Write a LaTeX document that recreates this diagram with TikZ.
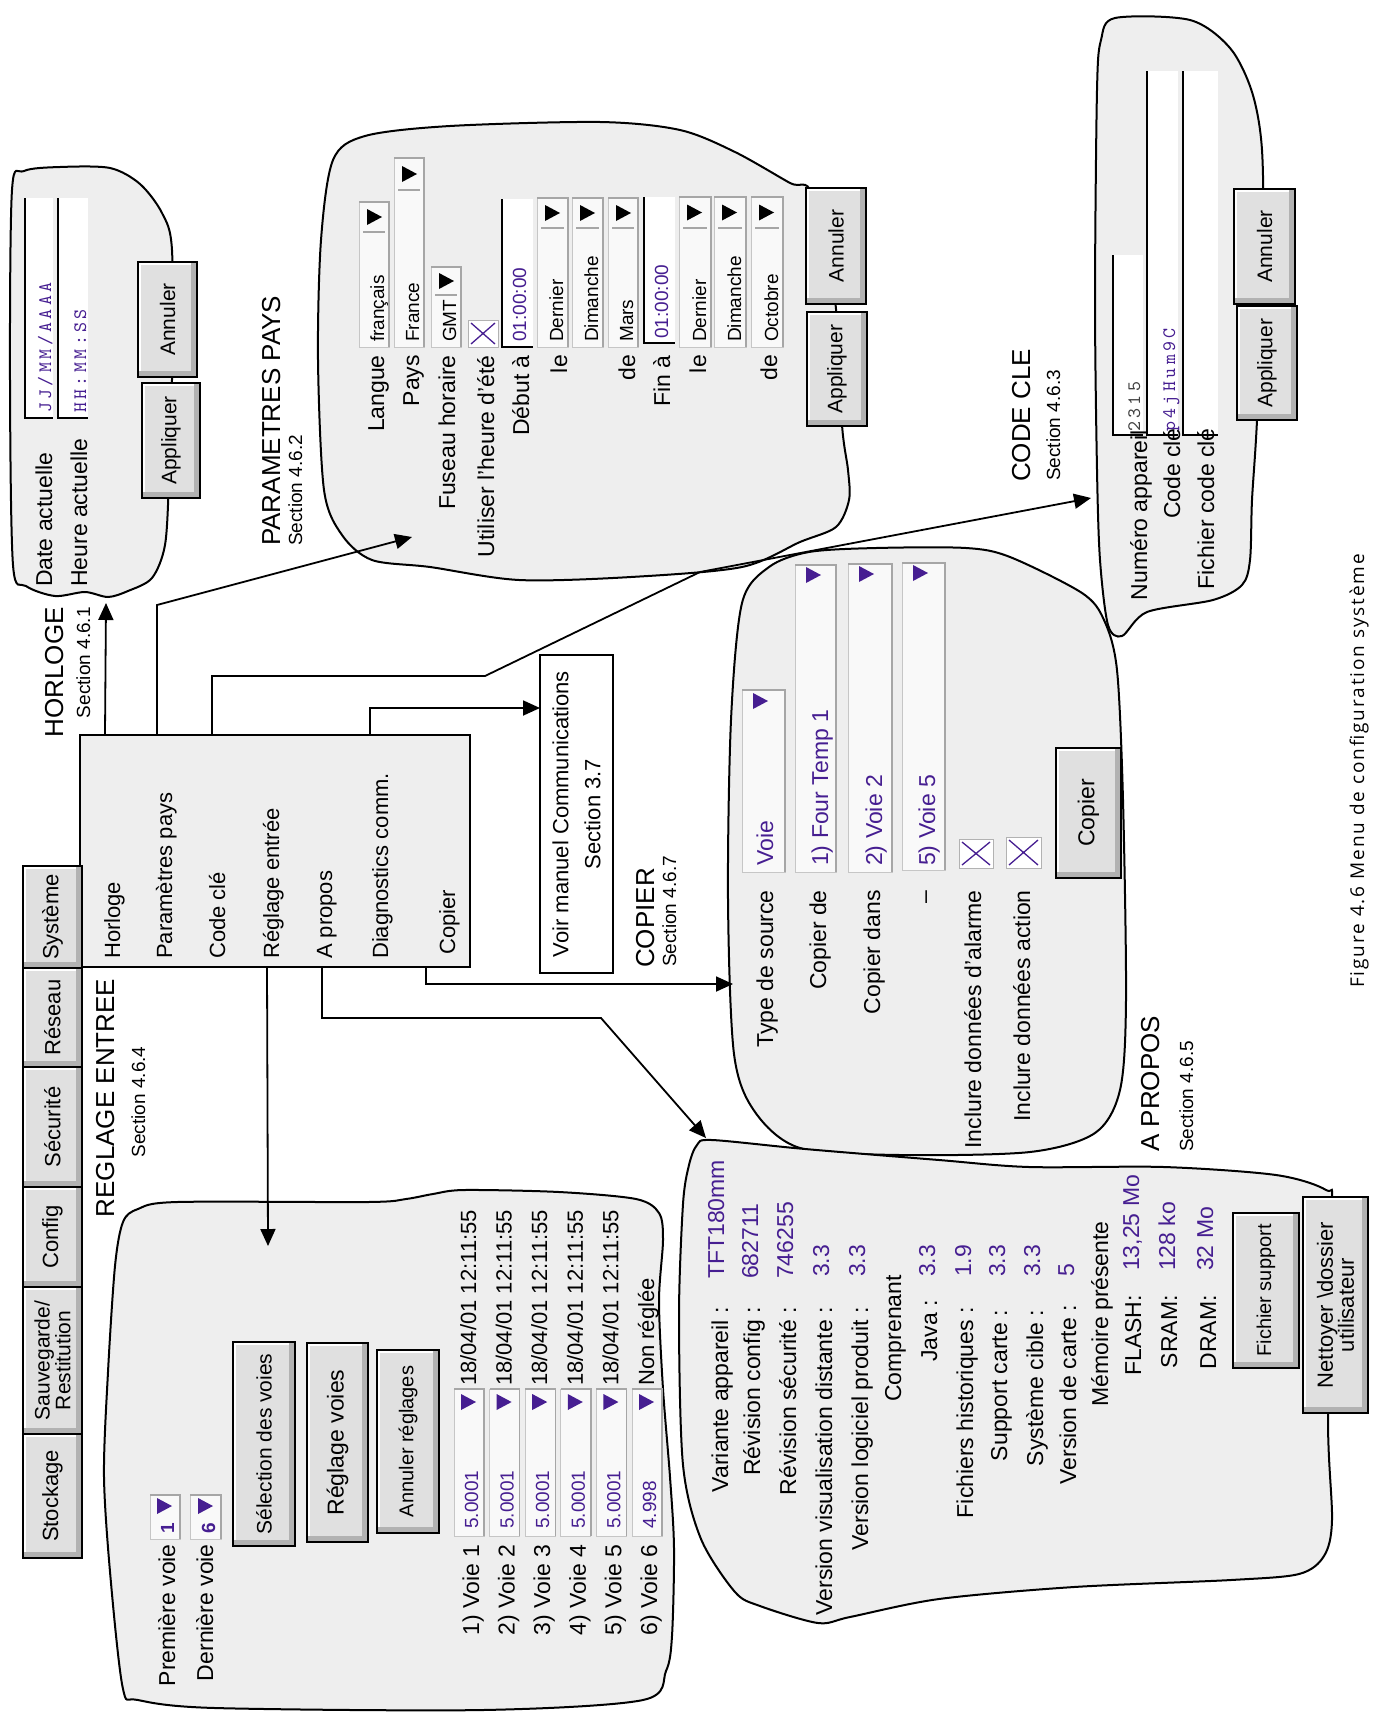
\documentclass[tikz,border=0pt]{standalone}
\usepackage{fontspec}
\setmainfont{Liberation Sans}
\newfontfamily\legendefont[LetterSpace=10]{Open Sans}
\newfontfamily\monofont[LetterSpace=18]{lmmono10-regular.otf}
\usetikzlibrary{arrows.meta}

\definecolor{fond}{RGB}{238,238,238}
\definecolor{saisie}{RGB}{70,30,145}

\newcommand{\horodate}{18/04/01 12:11:55}

% widgets, coordinates in pixels of the page (y downwards)
\newcommand{\bouton}[7][]{%
  \fill[gray!60] (#3,#4) rectangle (#5,#6);
  \fill[white] (#3,#4) rectangle ({#5-6},{#6-6});
  \fill[gray!24] ({#3+3},{#4+3}) rectangle ({#5-6},{#6-6});
  \draw[line width=1.3pt] (#3,#4) rectangle (#5,#6);
  \node[etiq, align=center, font=\fontsize{21}{24}\selectfont, #1] (#2)
    at ({(#3+#5)/2},{(#4+#6)/2}) {#7};
}
\newcommand{\champ}[4]{%
  \fill[white] (#1,#2) rectangle ({#3},{#4});
  \draw[line width=1.3pt] (#1,#2) -- (#1,#4) -- ({#3},{#4});
}
\newcommand{\liste}[4]{%
  \filldraw[fill=gray!5, draw=gray!45, line width=0.8pt] (#1,#2) rectangle ({#3},{#4});
  \draw[gray!70, line width=1.4pt] ({#3},{#4}) -- ({#3},{#2}) -- (#1,#2);
}
\newcommand{\fleche}[3]{%
  \fill[#3] ({#1},{#2-8}) -- ({#1+15},{#2}) -- ({#1},{#2+8}) -- cycle;
}
\newcommand{\coche}[4]{%
  \filldraw[fill=white, draw=gray!60, line width=1pt] (#1,#2) rectangle (#3,#4);
  \draw[saisie, line width=1.3pt] ({#1+3},{#2+3}) -- ({#3-3},{#4-3})
    ({#1+3},{#4-3}) -- ({#3-3},{#2+3});
}

\begin{document}
\begin{tikzpicture}[x=1pt, y=-1pt,
    bulle/.style={draw, fill=fond, line width=2pt},
    lien/.style={line width=1.8pt, -{Triangle[length=17pt,width=15pt]}},
    etiq/.style={rotate=90, inner sep=0pt, font=\fontsize{23}{27}\selectfont},
    menuitem/.style={etiq, anchor=base west, font=\fontsize{22}{26}\selectfont},
    valeur/.style={etiq, text=saisie},
    petit/.style={etiq, font=\fontsize{19}{22}\selectfont},
    titre/.style={etiq, font=\fontsize{26}{30}\selectfont},
    sect/.style={etiq, font=\fontsize{19}{22}\selectfont},
    fixe/.style={etiq, font=\monofont\fontsize{19}{21}\selectfont}
  ]
  \useasboundingbox (0,0) rectangle (1374,1713);
  \fill[white] (0,0) rectangle (1374,1713);

  % bubbles
  \draw[bulle] plot[smooth cycle] coordinates {(12,190) (24,171) (60,167) (110,168) (140,184)
    (162,213) (172,250) (172,380) (169,480) (165,545) (152,578) (128,591) (108,597) (85,592)
    (55,596) (26,586) (13,565) (10,380)};
  \draw[bulle] plot[smooth cycle] coordinates {(318,360) (321,240) (333,160) (365,136) (450,126)
    (600,122) (680,130) (735,152) (790,183) (812,194) (835,300) (842,425) (848,470) (849,500)
    (836,527) (800,542) (742,567) (631,577) (519,580) (430,567) (372,560) (342,535) (324,490)};
  \draw[bulle] plot[smooth cycle] coordinates {(1097,90) (1101,40) (1115,18) (1190,20) (1230,48)
    (1252,92) (1262,150) (1263,260) (1257,420) (1252,500) (1250,560) (1242,585) (1213,600)
    (1147,612) (1122,636) (1108,625) (1100,560) (1097,470) (1095,300)};
  \draw[bulle] plot[smooth cycle] coordinates {(731,720) (742,603) (769,567) (809,552) (876,548)
    (966,548) (1010,557) (1082,593) (1104,620) (1117,670) (1123,800) (1126,1000) (1120,1090)
    (1095,1133) (1030,1152) (900,1155) (800,1148) (755,1112) (734,1054) (728,900)};
  \draw[bulle] plot[smooth cycle] coordinates {(123,1222) (138,1209) (177,1202) (368,1202)
    (406,1199) (433,1194) (464,1190) (559,1192) (636,1199) (659,1213) (663,1240) (659,1301)
    (663,1389) (670,1477) (674,1548) (672,1636) (666,1671) (643,1700) (483,1710) (215,1708)
    (138,1700) (123,1689) (111,1583) (104,1477) (108,1372) (115,1266)};
  \draw[bulle] plot[smooth cycle] coordinates {(697,1145) (712,1140) (805,1149) (939,1160)
    (1029,1167) (1164,1167) (1276,1175) (1326,1190) (1332,1210) (1328,1420) (1332,1520)
    (1324,1556) (1299,1574) (1231,1580) (1074,1587) (939,1599) (850,1617) (818,1623)
    (760,1606) (735,1592) (701,1539) (683,1465) (679,1316) (683,1204) (689,1165)};

  % menu and tabs
  \node[draw, fill=fond, line width=2pt, minimum width=390pt, minimum height=232pt,
    inner sep=0pt] (menu) at (275,851) {};
  \foreach \bx/\t [count=\k] in {120/Horloge, 172/Paramètres pays, 225/Code clé,
      279/Réglage entrée, 332/A propos, 388/Diagnostics comm.}
    \node[menuitem] (m-\k) at (\bx,959) {\t};
  \node[menuitem] (m-7) at (455,955) {Copier};

  \bouton[font=\fontsize{22}{24}\selectfont]{tab-sys}{23}{866}{82}{968}{Système}
  \bouton[font=\fontsize{22}{24}\selectfont]{tab-res}{23}{968}{82}{1067}{Réseau}
  \bouton[font=\fontsize{22}{24}\selectfont]{tab-sec}{23}{1067}{82}{1187}{Sécurité}
  \bouton[font=\fontsize{22}{24}\selectfont]{tab-cfg}{23}{1187}{82}{1287}{Config}
  \bouton[font=\fontsize{21}{18}\selectfont]{tab-sauv}{23}{1287}{82}{1434}{Sauvegarde/\\Restitution}
  \bouton[font=\fontsize{22}{24}\selectfont]{tab-stock}{23}{1434}{82}{1558}{Stockage}

  % HORLOGE
  \champ{25}{198}{53}{418}
  \champ{58}{198}{88}{418}
  \node[fixe, text=saisie, anchor=base west] (date-val) at (51,413) {JJ/MM/AAAA};
  \node[fixe, text=saisie, anchor=base west] (heure-val) at (86,413) {HH:MM:SS};
  \node[etiq, anchor=base west] (date-lbl) at (52,587) {Date actuelle};
  \node[etiq, anchor=base west] (heure-lbl) at (87,587) {Heure actuelle};
  \bouton{horloge-annuler}{138}{262}{197}{377}{Annuler}
  \bouton{horloge-appliquer}{142}{383}{200}{498}{Appliquer}

  % PARAMETRES PAYS
  \foreach \xa/\xb/\ya/\ys/\t [count=\k] in {359/389/202/232/français, 394/424/158/190/France,
      431/461/267/295/GMT, 537/568/198/228/Dernier, 572/603/198/228/Dimanche,
      608/638/198/228/Mars, 679/711/197/228/Dernier, 714/746/197/228/Dimanche,
      751/783/197/228/Octobre} {
    \liste{\xa}{\ya}{\xb}{347}
    \draw[gray!70, line width=1.2pt] (\xa+4,\ys) -- (\xb-4,\ys);
    \fleche{\xa+8}{(\ya+\ys)/2}{black}
    \node[petit, anchor=base west] (pays-val-\k) at (\xb-5,342) {\t};
  }
  \champ{502}{199}{533}{347}
  \champ{644}{197}{675}{343}
  \node[petit, text=saisie, anchor=base west] (debut-val) at (526,342) {01:00:00};
  \node[petit, text=saisie, anchor=base west] (fin-val) at (668,339) {01:00:00};
  \coche{468}{320}{498}{347}
  \foreach \bx/\t [count=\k] in {384/Langue, 419/Pays, 455/Fuseau horaire,
      494/Utiliser l'heure d'été, 529/Début à, 567/le, 635/de, 670/Fin à, 706/le, 777/de}
    \node[etiq, anchor=base east] (pays-lbl-\k) at (\bx,355) {\t};
  \bouton{pays-annuler}{806}{188}{866}{304}{Annuler}
  \bouton{pays-appliquer}{807}{312}{867}{426}{Appliquer}

  % CODE CLE
  \champ{1113}{255}{1143}{435}
  \champ{1147}{71}{1178}{435}
  \champ{1183}{71}{1218}{435}
  \node[fixe, text=black!75, anchor=base west] (numero-val) at (1140,432) {2315};
  \node[fixe, text=saisie, anchor=base west] (cle-val) at (1175,432) {p4jHum9C};
  \node[etiq, anchor=base east] (numero-lbl) at (1147,430) {Numéro appareil};
  \node[etiq, anchor=base east] (cle-lbl) at (1180,428) {Code clé};
  \node[etiq, anchor=base east] (fichier-lbl) at (1214,428) {Fichier code clé};
  \bouton{cle-annuler}{1234}{189}{1295}{304}{Annuler}
  \bouton{cle-appliquer}{1237}{306}{1297}{420}{Appliquer}

  % voir manuel
  \node[draw, fill=white, line width=1.6pt, rotate=90, minimum width=318pt, minimum height=73pt,
    inner sep=0pt, align=center, font=\fontsize{22}{32}\selectfont] (manuel) at (576.5,814)
    {Voir manuel Communications\\Section 3.7};

  % COPIER
  \liste{742}{690}{785}{872}
  \liste{795}{565}{836}{872}
  \liste{848}{564}{892}{872}
  \liste{902}{563}{945}{870}
  \fleche{753}{701}{saisie}
  \fleche{806}{575}{saisie}
  \fleche{859}{574}{saisie}
  \fleche{913}{573}{saisie}
  \node[valeur, anchor=base west] (type-val) at (773,866) {Voie};
  \node[valeur, anchor=base west] (de-val) at (828,866) {1) Four Temp 1};
  \node[valeur, anchor=base west] (dans-val) at (882,866) {2) Voie 2};
  \node[valeur, anchor=base west] (jusque-val) at (935,866) {5) Voie 5};
  \foreach \bx/\t [count=\k] in {773/Type de source, 826/Copier de, 880/Copier dans, 932/--,
      981/Inclure données d'alarme, 1030/Inclure données action}
    \node[etiq, anchor=base east] (copier-lbl-\k) at (\bx,890) {\t};
  \coche{959}{839}{993}{868}
  \coche{1006}{837}{1041}{868}
  \bouton[font=\fontsize{23}{26}\selectfont]{copier-bouton}{1056}{748}{1121}{878}{Copier}

  % REGLAGE ENTREE
  \liste{150}{1495}{180}{1539}
  \liste{190}{1495}{221}{1539}
  \fleche{157}{1506}{saisie}
  \fleche{198}{1506}{saisie}
  \node[petit, text=saisie, font=\bfseries\fontsize{19}{22}\selectfont, anchor=base west]
    (premiere-val) at (174,1534) {1};
  \node[petit, text=saisie, font=\bfseries\fontsize{19}{22}\selectfont, anchor=base west]
    (derniere-val) at (215,1534) {6};
  \node[etiq, anchor=base east] (premiere-lbl) at (175,1544) {Première voie};
  \node[etiq, anchor=base east] (derniere-lbl) at (213,1544) {Dernière voie};
  \bouton{selection}{233}{1342}{295}{1546}{Sélection des voies}
  \bouton[font=\fontsize{23}{26}\selectfont]{reglage-voies}{307}{1343}{368}{1542}{Réglage voies}
  \bouton[font=\fontsize{20}{24}\selectfont]{annuler-reglages}{377}{1350}{439}{1533}{Annuler réglages}
  \foreach \v/\d [count=\i] in {5.0001/\horodate, 5.0001/\horodate, 5.0001/\horodate,
      5.0001/\horodate, 5.0001/\horodate, 4.998/Non réglée} {
    \pgfmathsetmacro\xa{454+35.6*(\i-1)}
    \liste{\xa}{1389}{\xa+30}{1536}
    \fleche{\xa+7}{1402}{saisie}
    \node[petit, text=saisie, anchor=base west] (voie-val-\i) at (\xa+24,1529) {\v};
    \node[etiq, font=\fontsize{22}{26}\selectfont, anchor=base west] (voie-date-\i)
      at (\xa+22,1386) {\d};
    \node[etiq, anchor=base east] (voie-lbl-\i) at (\xa+25,1544) {\i) Voie \i};
  }

  % A PROPOS
  \foreach \bx/\ye/\t [count=\k] in {728/1307/Variante appareil :, 760/1307/Révision config :,
      796/1307/Révision sécurité :, 832/1307/Version visualisation distante :,
      868/1307/Version logiciel produit :, 901/1275/Comprenant, 937/1300/Java :,
      973/1307/Fichiers historiques :, 1007/1310/Support carte :, 1043/1310/Système cible :,
      1076/1305/Version de carte :, 1108/1221/Mémoire présente, 1141/1295/FLASH:,
      1177/1295/SRAM:, 1216/1295/DRAM:}
    \node[etiq, anchor=base east] (propos-lbl-\k) at (\bx,\ye) {\t};
  \foreach \bx/\ys/\t [count=\k] in {724/1279/TFT180mm, 758/1279/682711, 793/1279/746255,
      829/1277/3.3, 865/1277/3.3, 935/1277/3.3, 971/1277/1.9, 1005/1277/3.3, 1040/1277/3.3,
      1074/1277/5, 1139/1271/{13,25 Mo}, 1175/1271/128 ko, 1213/1271/32 Mo}
    \node[valeur, anchor=base west] (propos-val-\k) at (\bx,\ys) {\t};
  \bouton[font=\fontsize{20}{24}\selectfont]{fichier-support}{1233}{1213}{1299}{1368}{Fichier support}
  \bouton[font=\fontsize{22}{21}\selectfont]{nettoyer}{1303}{1197}{1368}{1413}
    {Nettoyer \textbackslash dossier\\utilisateur}

  % connectors
  \coordinate (horloge-in) at (106,603);
  \coordinate (pays-in) at (412,537);
  \coordinate (cle-coude) at (485,676);
  \coordinate (cle-pli) at (700,572);
  \coordinate (cle-in) at (1091,498);
  \coordinate (diag-in) at (540,708);
  \coordinate (copier-in) at (733,984);
  \coordinate (propos-coude) at (601,1018);
  \coordinate (propos-in) at (706,1138);
  \coordinate (reglage-in) at (268,1246);
  \draw[lien] ([xshift=26pt]menu.north west) -- (horloge-in);
  \draw[lien] ([xshift=78pt]menu.north west) -- ++(0,-129) -- (pays-in);
  \draw[lien] ([xshift=133pt]menu.north west) |- (cle-coude) -- (cle-pli) -- (cle-in);
  \draw[lien] ([xshift=291pt]menu.north west) |- (diag-in);
  \draw[lien] ([xshift=347pt]menu.south west) |- (copier-in);
  \draw[lien] ([xshift=243pt]menu.south west) |- (propos-coude) -- (propos-in);
  \draw[lien] ([xshift=188pt]menu.south west) -- (reglage-in);

  % titles
  \node[titre, anchor=base east] (horloge-titre) at (63,607) {HORLOGE};
  \node[sect, anchor=base east] (horloge-sect) at (90,607) {Section 4.6.1};
  \node[titre, anchor=base west] (pays-titre) at (280,546) {PARAMETRES PAYS};
  \node[sect, anchor=base west] (pays-sect) at (302,546) {Section 4.6.2};
  \node[titre, anchor=base west] (cle-titre) at (1030,482) {CODE CLE};
  \node[sect, anchor=base west] (cle-sect) at (1060,481) {Section 4.6.3};
  \node[titre, anchor=base] (reglage-titre) at (114,1098) {REGLAGE ENTREE};
  \node[sect, anchor=base] (reglage-sect) at (145,1102) {Section 4.6.4};
  \node[titre, anchor=base west] (copier-titre) at (654,968) {COPIER};
  \node[sect, anchor=base west] (copier-sect) at (676,967) {Section 4.6.7};
  \node[titre, anchor=base west] (propos-titre) at (1159,1152) {A PROPOS};
  \node[sect, anchor=base west] (propos-sect) at (1193,1152) {Section 4.6.5};

  \node[rotate=90, anchor=base west, inner sep=0pt, font=\legendefont\fontsize{19}{22}\selectfont]
    (legende) at (1364,988) {Figure 4.6 Menu de configuration système};
\end{tikzpicture}
\end{document}
